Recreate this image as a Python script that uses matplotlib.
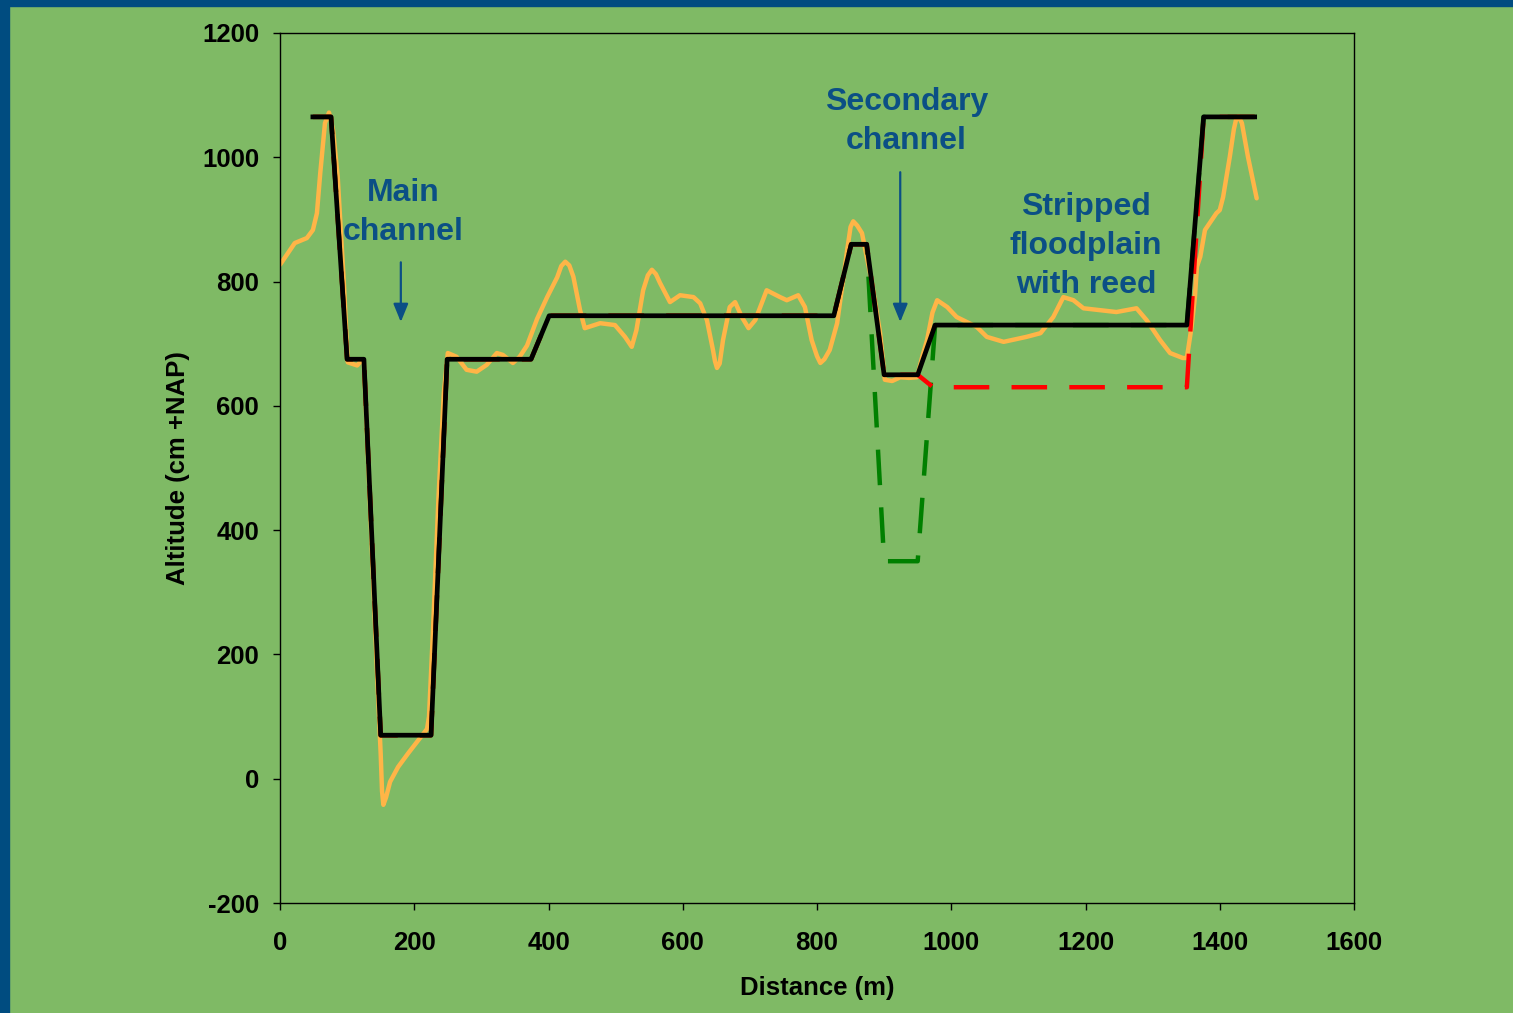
#!/usr/bin/env python3
# -*- coding: utf-8 -*-
"""Cross-section profile of the river bed: measured vs reconstructed."""
import matplotlib
matplotlib.use("Agg")
import matplotlib.pyplot as plt
from matplotlib.patches import Rectangle

# --- Colori ---
BG = "#7FBA65"
BORDER = "#004C80"
TEXT_BLUE = "#0B4F85"

# --- Dati ---
# Profilo misurato (linea arancione): distanza (m) e quota (cm +NAP)
measured_x = [0, 22, 40, 49, 55, 60, 67, 73, 79, 86, 95, 101, 115, 122,
              125, 131, 138, 145, 150, 152, 154, 158, 164, 176, 191, 206, 219,
              222, 228, 236, 244, 250, 263, 278, 293, 308, 323, 332, 347, 357,
              368, 383, 398, 413, 419, 425, 431, 437, 447, 454, 477, 499, 514,
              524, 531, 541, 548, 554, 560, 566, 581, 596, 616, 626, 636, 645,
              648, 651, 655, 660, 670, 678, 688, 698, 708, 725, 745, 755, 772,
              782, 792, 800, 805, 811, 819, 830, 845, 850, 854, 860, 867, 882,
              894, 901, 912, 924, 937, 949, 957, 964, 972, 979, 994, 1008, 1038,
              1053, 1078, 1112, 1133, 1152, 1167, 1182, 1197, 1222, 1246, 1276,
              1291, 1311, 1326, 1345, 1351, 1358, 1363, 1366, 1371, 1378, 1385,
              1395, 1400, 1405, 1415, 1421, 1425, 1428, 1433, 1442, 1455]
measured_y = [827, 862, 870, 883, 910, 975, 1055, 1072, 1044, 968, 800, 670, 665, 674,
              668, 520, 340, 160, 40, -20, -42, -30, -5, 19, 41, 62, 80,
              100, 240, 450, 620, 685, 679, 658, 655, 666, 685, 682, 669, 679,
              697, 740, 775, 807, 825, 832, 826, 808, 754, 725, 733, 730, 711,
              695, 722, 786, 810, 819, 812, 798, 767, 778, 775, 765, 738, 690,
              672, 661, 668, 706, 759, 767, 743, 725, 738, 786, 775, 770, 778,
              759, 706, 680, 669, 675, 690, 733, 851, 888, 897, 890, 878, 797,
              717, 642, 640, 646, 645, 646, 680, 706, 750, 770, 759, 743, 727,
              711, 703, 711, 717, 743, 775, 770, 757, 754, 751, 757,
              738, 706, 685, 677, 677, 727, 775, 824, 840, 883, 894,
              910, 915, 936, 1001, 1045, 1064, 1066, 1055, 1001, 934]

# Profilo ricostruito (linea nera)
profile_x = [49, 76, 100, 125, 150, 225, 249, 374, 401, 825, 851, 874,
             900, 950, 976, 1351, 1376, 1452]
profile_y = [1065, 1065, 675, 675, 70, 70, 675, 675, 745, 745, 860, 860,
             650, 650, 730, 730, 1065, 1065]

# Scenario con canale secondario approfondito (verde tratteggiato)
deep_x = profile_x
deep_y = [1065, 1065, 675, 675, 70, 70, 675, 675, 745, 745, 860, 860,
          350, 350, 730, 730, 1065, 1065]

# Scenario con golena ribassata (rosso tratteggiato)
lowered_x = [49, 76, 100, 125, 150, 225, 249, 374, 401, 825, 851, 874,
             900, 950, 973, 1351, 1376, 1452]
lowered_y = [1065, 1065, 675, 675, 70, 70, 675, 675, 745, 745, 860, 860,
             650, 650, 630, 630, 1065, 1065]

xticks = [0, 200, 400, 600, 800, 1000, 1200, 1400, 1600]
yticks = [-200, 0, 200, 400, 600, 800, 1000, 1200]

# Etichette con le rispettive posizioni (testo, x, y) e frecce (x, y_inizio, y_fine)
labels = [("Main\nchannel", 183, 911),
          ("Secondary\nchannel", 933, 1057),
          ("Stripped\nfloodplain\nwith reed", 1201, 857)]
arrows = [(180, 831, 735), (924, 976, 735)]

plt.rcParams["font.family"] = ["Liberation Sans", "DejaVu Sans"]
plt.rcParams["font.weight"] = "bold"
plt.rcParams["axes.unicode_minus"] = False

fig = plt.figure(figsize=(15.13, 10.13), dpi=100, facecolor=BG)
ax = fig.add_axes([280 / 1513, 1 - 903 / 1013, 1074 / 1513, 870 / 1013])
ax.set_facecolor(BG)

# Bordo blu in alto e a sinistra
fig.patches.append(Rectangle((0, 0), 9 / 1513, 1, transform=fig.transFigure,
                             color=BORDER, zorder=0))
fig.patches.append(Rectangle((0, 1 - 6 / 1013), 1, 6 / 1013,
                             transform=fig.transFigure, color=BORDER, zorder=0))

ax.plot(measured_x, measured_y, color="#FFB547", lw=3.2, zorder=2,
        solid_joinstyle="round", solid_capstyle="round")
ax.plot(deep_x, deep_y, color="#008000", lw=3.2, ls=(0, (8, 5)), zorder=3)
ax.plot(lowered_x, lowered_y, color="#FF0000", lw=3.2, ls=(0, (8, 5)), zorder=3)
ax.plot(profile_x, profile_y, color="black", lw=3.4, zorder=4)

for text, x, y in labels:
    ax.text(x, y, text, color=TEXT_BLUE, fontsize=23, fontweight="bold",
            ha="center", va="center", linespacing=1.38)
for x, y0, y1 in arrows:
    ax.annotate("", xy=(x, y1), xytext=(x, y0),
                arrowprops=dict(arrowstyle="-|>,head_length=1.1,head_width=0.45",
                                color=TEXT_BLUE, lw=1.6, shrinkA=0, shrinkB=0))

ax.set_xlim(0, 1600)
ax.set_ylim(-200, 1200)
ax.set_xticks(xticks)
ax.set_yticks(yticks)
ax.tick_params(direction="out", length=5, width=1, labelsize=18.5, pad=10)
ax.tick_params(axis="x", pad=15)
for s in ax.spines.values():
    s.set_color("black")
    s.set_linewidth(1)

ax.set_xlabel("Distance (m)", fontsize=18.5, fontweight="bold", labelpad=15)
ax.set_ylabel("Altitude (cm +NAP)", fontsize=18.5, fontweight="bold", labelpad=9)

fig.savefig("out.png", dpi=100, facecolor=BG)
